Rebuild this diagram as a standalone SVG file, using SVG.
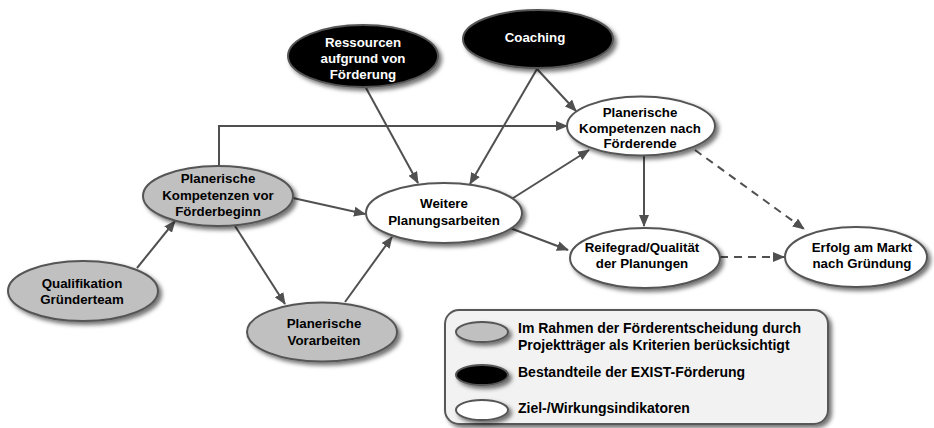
<svg xmlns="http://www.w3.org/2000/svg" width="934" height="428" viewBox="0 0 934 428">
<defs>
<filter id="sh" x="-20%" y="-20%" width="150%" height="160%">
<feDropShadow dx="3" dy="3" stdDeviation="2" flood-color="#000" flood-opacity="0.55"/>
</filter>
<marker id="ar" markerUnits="userSpaceOnUse" markerWidth="12" markerHeight="10" refX="11" refY="5" orient="auto">
<path d="M0,0 L12,5 L0,10 z" fill="#505050"/>
</marker>
<style>
.n{stroke:#555;stroke-width:2;filter:url(#sh)}
.g{fill:#c0c0c0}
.b{fill:#000}
.w{fill:#fff}
text{font-family:"Liberation Sans",Arial,sans-serif;font-weight:bold;font-size:13.3px;text-anchor:middle;fill:#000}
.wt{fill:#fff}
.c{stroke:#505050;stroke-width:2;fill:none;marker-end:url(#ar)}
.d{stroke-dasharray:8,6}
.lt{text-anchor:start;font-size:14px}
</style>
</defs>
<rect width="934" height="428" fill="#fff"/>

<g id="connectors">
<line class="c" x1="137" y1="268" x2="175" y2="221"/>
<line class="c" x1="235" y1="226" x2="285" y2="304"/>
<line class="c" x1="345" y1="302" x2="392" y2="237"/>
<line class="c" x1="293" y1="198" x2="365" y2="214"/>
<polyline class="c" points="219,166 219,126 567,126"/>
<line class="c" x1="366" y1="88" x2="418" y2="183"/>
<line class="c" x1="537" y1="69" x2="470" y2="184"/>
<line class="c" x1="537" y1="69" x2="576" y2="111"/>
<line class="c" x1="510" y1="200" x2="589" y2="150"/>
<line class="c" x1="510" y1="228" x2="568" y2="250"/>
<line class="c" x1="644" y1="156" x2="644" y2="226"/>
<line class="c d" x1="695" y1="150" x2="804" y2="229"/>
<line class="c d" x1="720" y1="257" x2="784" y2="257"/>
</g>

<g id="ressourcen">
<ellipse class="n b" cx="363" cy="56" rx="75" ry="31"/>
<text class="wt" x="363" y="47">Ressourcen</text>
<text class="wt" x="363" y="63">aufgrund von</text>
<text class="wt" x="363" y="79">Förderung</text>
</g>

<g id="coaching">
<ellipse class="n b" cx="538" cy="39" rx="75" ry="29"/>
<text class="wt" x="535" y="42">Coaching</text>
</g>

<g id="kompetenzen-nach">
<ellipse class="n w" cx="641" cy="126" rx="74" ry="29.5"/>
<text x="640" y="117">Planerische</text>
<text x="640" y="133">Kompetenzen nach</text>
<text x="640" y="148">Förderende</text>
</g>

<g id="weitere">
<ellipse class="n w" cx="444" cy="213" rx="78" ry="30"/>
<text x="444" y="208">Weitere</text>
<text x="444" y="225">Planungsarbeiten</text>
</g>

<g id="kompetenzen-vor">
<ellipse class="n g" cx="218" cy="196" rx="75" ry="30"/>
<text x="218" y="183">Planerische</text>
<text x="218" y="200">Kompetenzen vor</text>
<text x="218" y="216">Förderbeginn</text>
</g>

<g id="qualifikation">
<ellipse class="n g" cx="83" cy="291" rx="75" ry="30"/>
<text x="82" y="288">Qualifikation</text>
<text x="82" y="304">Gründerteam</text>
</g>

<g id="vorarbeiten">
<ellipse class="n g" cx="322" cy="332" rx="75" ry="29.5"/>
<text x="324" y="328">Planerische</text>
<text x="324" y="345">Vorarbeiten</text>
</g>

<g id="reifegrad">
<ellipse class="n w" cx="645" cy="258" rx="75" ry="30"/>
<text x="642" y="252">Reifegrad/Qualität</text>
<text x="642" y="268">der Planungen</text>
</g>

<g id="erfolg">
<ellipse class="n w" cx="856" cy="257" rx="71" ry="30"/>
<text x="862" y="252">Erfolg am Markt</text>
<text x="862" y="268">nach Gründung</text>
</g>

<g id="legend">
<rect x="445" y="310" width="383" height="114" rx="14" fill="#f2f2f2" stroke="#595959" stroke-width="2" filter="url(#sh)"/>
<ellipse class="n g" cx="482" cy="332" rx="26" ry="10"/>
<ellipse class="n b" cx="482" cy="375" rx="26" ry="10"/>
<ellipse class="n w" cx="482" cy="410" rx="26" ry="10"/>
<text class="lt" x="518" y="333">Im Rahmen der Förderentscheidung durch</text>
<text class="lt" x="518" y="350">Projektträger als Kriterien berücksichtigt</text>
<text class="lt" x="518" y="377">Bestandteile der EXIST-Förderung</text>
<text class="lt" x="518" y="413">Ziel-/Wirkungsindikatoren</text>
</g>
</svg>
